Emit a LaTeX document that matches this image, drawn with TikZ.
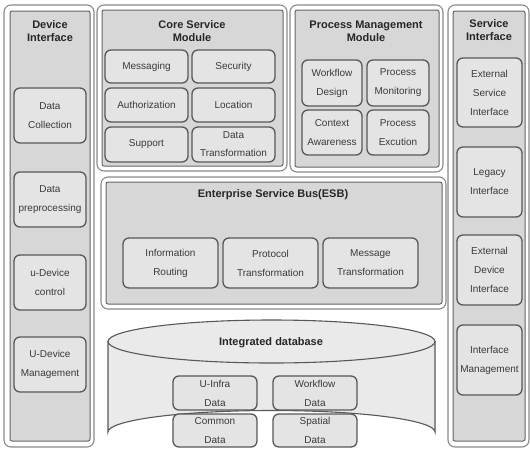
\documentclass[tikz,border=0pt]{standalone}
\usepackage{fontspec}
\setmainfont{Liberation Sans}
\definecolor{outerc}{HTML}{8A8A8A}
\definecolor{innerc}{HTML}{666666}
\definecolor{panelf}{HTML}{D7D7D7}
\definecolor{boxf}{HTML}{E4E4E4}
\definecolor{boxc}{HTML}{585858}
\definecolor{txt}{HTML}{3A3A3A}
\definecolor{cylf}{HTML}{EAEAEA}
\tikzset{
  outerp/.style={draw=outerc, line width=1.1pt, fill=white, rounded corners=7pt},
  innerp/.style={draw=innerc, line width=1pt, fill=panelf, rounded corners=2pt},
  box/.style={draw=boxc, line width=1.3pt, fill=boxf, rounded corners=6pt, inner sep=0pt,
    align=center, text=txt, font=\fontsize{10}{19}\selectfont},
  bx/.style 2 args={box, text width=#1, minimum height=#2},
  ttl/.style={align=center, text=black!85, font=\fontsize{11}{13}\selectfont\bfseries, inner sep=0pt},
}
\begin{document}
\begin{tikzpicture}[x=1pt,y=-1pt]
\useasboundingbox (0,0) rectangle (530,448);
\begin{scope}
\clip (0,0) rectangle (530,448);
% panels
\draw[outerp] (4,5) rectangle (94,447);
\draw[innerp] (10,11) rectangle (90,441);
\draw[outerp] (97,5) rectangle (287,171);
\draw[innerp] (102,10) rectangle (283,166);
\draw[outerp] (290,5) rectangle (443,172);
\draw[innerp] (295,10) rectangle (439,167);
\draw[outerp] (448,5) rectangle (529,447);
\draw[innerp] (453,11) rectangle (525,441);
\draw[outerp] (101,177) rectangle (446,309);
\draw[innerp] (106,182) rectangle (442,304);
% cylinder
\draw[draw=boxc, line width=1.1pt, fill=cylf] (108,341) -- (108,432) arc[start angle=180, end angle=360, x radius=163.5, y radius=21.5] -- (435,341);
\draw[draw=boxc, line width=1.1pt, fill=cylf] (271.5,341.5) ellipse[x radius=163.5, y radius=21.5];
\end{scope}
% titles
\node[ttl] (tdev) at (50,31) {Device\\Interface};
\node[ttl] (tcore) at (192,31) {Core Service\\Module};
\node[ttl] (tproc) at (366,31) {Process Management\\Module};
\node[ttl] (tserv) at (489,30) {Service\\Interface};
\node[ttl] (tesb) at (273,195) {Enterprise Service Bus(ESB)};
\node[ttl] (tdb) at (271,343) {Integrated database};
% device interface
\node[bx={72pt}{55pt}] (dc) at (50,115.5) {Data\\Collection};
\node[bx={72pt}{55pt}] (dp) at (50,199.5) {Data\\preprocessing};
\node[bx={72pt}{55pt}] (udc) at (50,282.5) {u-Device\\control};
\node[bx={72pt}{55pt}] (udm) at (50,364.5) {U-Device\\Management};
% core service
\node[bx={83pt}{33pt}] (msg) at (146.5,66.5) {Messaging};
\node[bx={83pt}{33pt}] (sec) at (233.5,66.5) {Security};
\node[bx={83pt}{34pt}] (auth) at (146.5,105) {Authorization};
\node[bx={83pt}{34pt}] (loc) at (233.5,105) {Location};
\node[bx={83pt}{35pt}] (sup) at (146.5,144.5) {Support};
\node[bx={83pt}{35pt}, font=\fontsize{10}{18}\selectfont] (dtr) at (233.5,144.5) {Data\\Transformation};
% process management
\node[bx={60pt}{46pt}] (wd) at (332,83) {Workflow\\Design};
\node[bx={62pt}{46pt}] (pm) at (398,83) {Process\\Monitoring};
\node[bx={60pt}{45pt}] (ca) at (332,132.5) {Context\\Awareness};
\node[bx={62pt}{45pt}] (pe) at (398,132.5) {Process\\Excution};
% service interface
\node[bx={65pt}{69pt}] (esi) at (489.5,92.5) {External\\Service\\Interface};
\node[bx={65pt}{70pt}] (leg) at (489.5,182) {Legacy\\Interface};
\node[bx={65pt}{70pt}] (edi) at (489.5,270) {External\\Device\\Interface};
\node[bx={65pt}{70pt}] (im) at (489.5,360) {Interface\\Management};
% ESB
\node[bx={95pt}{50pt}] (ir) at (170.5,263) {Information\\Routing};
\node[bx={95pt}{50pt}] (pt) at (270.5,263) {Protocol\\Transformation};
\node[bx={95pt}{50pt}] (mt) at (370.5,263) {Message\\Transformation};
% database
\node[bx={84pt}{34pt}] (ui) at (215,393) {U-Infra\\Data};
\node[bx={84pt}{34pt}] (wfd) at (315,393) {Workflow\\Data};
\node[bx={84pt}{33pt}] (cd) at (215,430.5) {Common\\Data};
\node[bx={84pt}{33pt}] (sd) at (315,430.5) {Spatial\\Data};
\end{tikzpicture}
\end{document}
